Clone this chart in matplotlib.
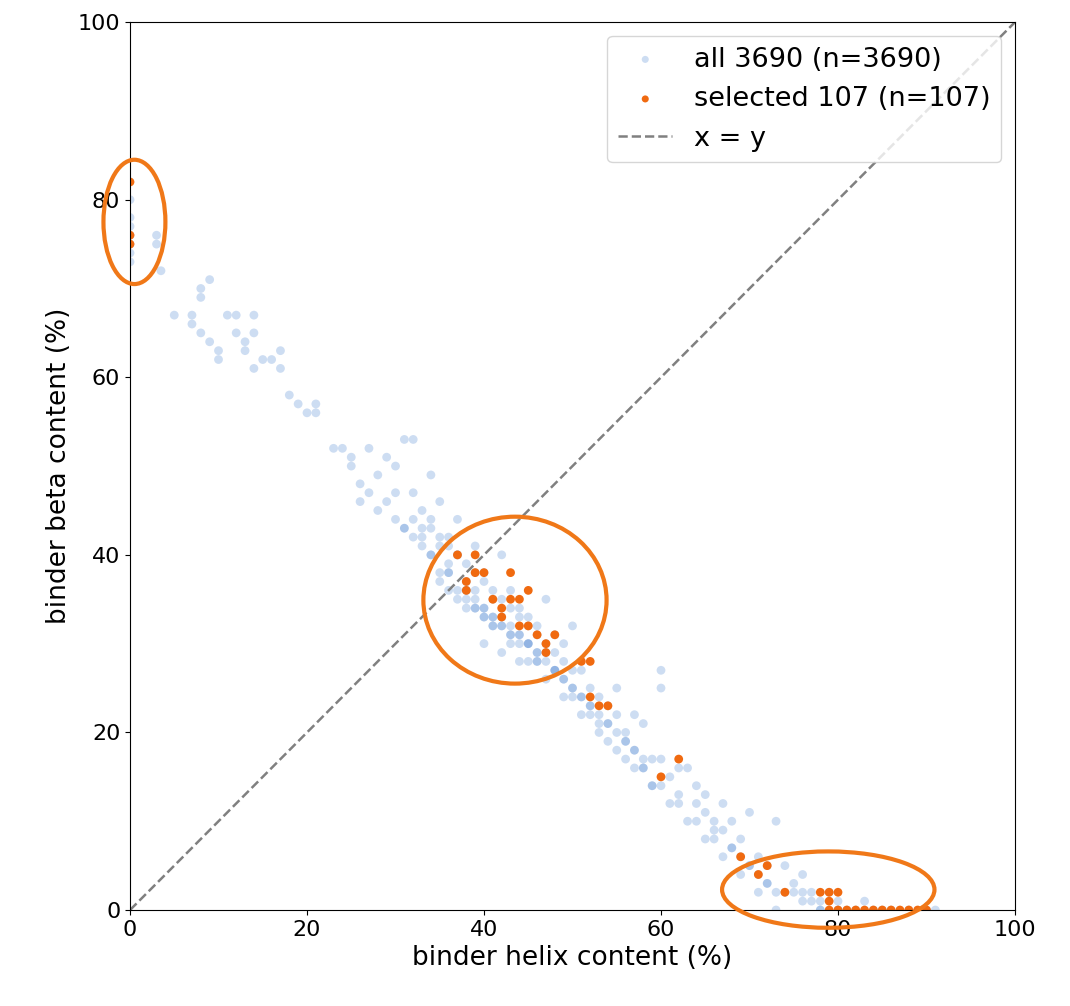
import numpy as np
import matplotlib
matplotlib.use("Agg")
import matplotlib.pyplot as plt
from matplotlib.patches import Ellipse

# all designs (representative points)
all_x = [0,0,0,0,0,0,0,3,3,3.5,
         5,7,7,8,8,8,9,9,10,10,11,12,12,13,13,14,14,14,15,16,17,17,18,19,20,21,21,
         23,24,25,25,26,26,27,27,28,28,29,29,30,30,31,31,32,32,32,33,33,34,34,35,35,
         36,36,37,37,38,38,39,39,40,40,40,41,41,42,42,43,43,44,44,45,45,46,46,47,47,
         48,48,49,49,50,50,51,51,52,52,53,53,54,54,55,55,56,56,57,57,58,58,59,59,
         60,60,60,61,62,62,63,64,64,65,65,66,66,67,67,68,68,69,69,70,70,71,71,72,72,
         73,73,74,75,75,76,76,77,77,78,78,79,80,80,81,82,83,84,85,86,88,90,91,
         33,34,35,36,37,38,39,40,41,42,43,44,45,46,47,48,49,50,36,38,40,42,44,46,
         30,31,32,33,34,35,37,39,41,43,45,47,49,51,53,55,57,59,61,63,65,67,69,71,73,
         35,36,37,38,39,40,41,42,43,44,45,46,47,48,49,50,51,52,53,54,55,56,57,58,
         34,36,38,39,40,41,42,43,44,45,46,48,50,52,54,56,58,60,62,64,66,68,70,72,74,76,78,80]
all_y = [73,74,75,76,77,78,80,75,76,72,
         67,66,67,65,70,69,71,64,63,62,67,67,65,64,63,67,65,61,62,62,63,61,58,57,56,57,56,
         52,52,51,50,48,46,52,47,49,45,46,51,50,47,53,43,53,47,44,42,45,49,44,46,41,
         42,39,44,40,37,35,41,36,38,33,30,35,32,40,29,36,31,34,28,33,30,32,28,35,29,
         31,27,30,26,32,24,24,27,22,25,24,21,23,19,25,22,20,17,22,18,16,21,17,14,
         27,25,17,15,13,16,16,12,14,11,13,10,8,12,9,7,10,8,6,5,11,4,6,3,5,
         2,10,5,3,2,4,2,1,2,1,0,2,0,1,0,0,1,0,0,0,0,0,0,
         43,43,42,41,40,39,38,37,36,35,34,33,32,31,30,29,28,27,38,36,34,32,30,28,
         44,43,42,41,40,38,36,34,32,30,28,26,24,22,20,18,16,14,12,10,8,6,4,2,0,
         37,36,35,34,34,33,33,32,31,31,30,29,28,27,26,25,24,23,22,21,20,19,18,17,
         40,38,36,35,34,33,33,32,31,30,29,27,25,23,21,19,16,14,12,10,9,7,5,3,2,1,0,0]

# selected designs
sel_x = [0,0,0,37,38,38,39,39,40,41,42,42,43,43,44,44,45,45,46,47,47,48,
         51,52,52,53,54,60,62,69,71,72,74,78,79,79,79,80,80,81,
         82,83,84,85,86,87,88,89,90]
sel_y = [82,76,75,40,37,36,40,38,38,35,34,33,38,35,35,32,36,32,31,29,30,31,
         28,24,28,23,23,15,17,6,4,5,2,2,2,1,0,2,0,0,
         0,0,0,0,0,0,0,0,0]

fig = plt.figure(figsize=(10.7, 10.06), dpi=100)
ax = fig.add_axes([0.1215, 0.0954, 0.8271, 0.8826])
ax.scatter(all_x, all_y, s=40, color="#5b8fd6", alpha=0.3, edgecolors="none",
           label="all 3690 (n=3690)")
ax.scatter(sel_x, sel_y, s=40, color="#f06a10", edgecolors="none",
           label="selected 107 (n=107)")
ax.plot([0, 100], [0, 100], ls="--", color="gray", lw=1.8, label="x = y")

for cx, cy, w, h in [(0.5, 77.5, 7, 14), (43.5, 34.9, 20.7, 18.8), (78.9, 2.3, 24, 8.6)]:
    ax.add_patch(Ellipse((cx, cy), w, h, fill=False, edgecolor="#f07818", lw=3, clip_on=False, zorder=5))

ax.set_xlim(0, 100); ax.set_ylim(0, 100)
ax.set_xlabel("binder helix content (%)", fontsize=19)
ax.set_ylabel("binder beta content (%)", fontsize=19)
ax.tick_params(labelsize=16)
ax.legend(loc="upper right", fontsize=19.5, markerscale=0.8)
fig.savefig("out.png", dpi=100)
